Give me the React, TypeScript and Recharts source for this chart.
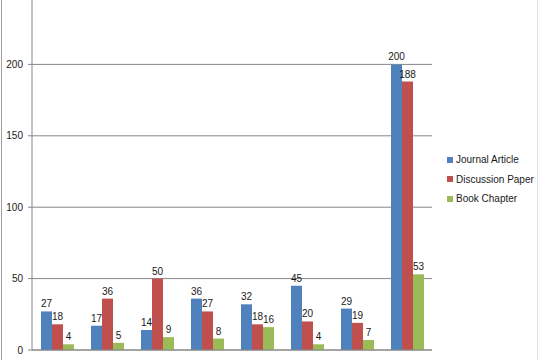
import React from "react";
import {
  BarChart,
  Bar,
  XAxis,
  YAxis,
  CartesianGrid,
  Legend,
  LabelList,
} from "recharts";

const categories = ["1", "2", "3", "4", "5", "6", "7", "8"];
const journalArticle = [27, 17, 14, 36, 32, 45, 29, 200];
const discussionPaper = [18, 36, 50, 27, 18, 20, 19, 188];
const bookChapter = [4, 5, 9, 8, 16, 4, 7, 53];
const yTicks = [0, 50, 100, 150, 200];

const series = [
  { key: "Journal Article", values: journalArticle, color: "#4F81BD" },
  { key: "Discussion Paper", values: discussionPaper, color: "#C0504D" },
  { key: "Book Chapter", values: bookChapter, color: "#9BBB59" },
];

const data = categories.map((c, i) => {
  const row: Record<string, string | number> = { name: c, pos: i + 0.5 };
  series.forEach((s) => (row[s.key] = s.values[i]));
  return row;
});

const edgeTicks = categories.map((_, i) => i).concat(categories.length);

const font = "'Liberation Sans', Arial, sans-serif";
const axisColor = "#868686";

const LegendBox = () => (
  <div style={{ fontFamily: font, fontSize: 10, color: "#1a1a1a" }}>
    {series.map((s) => (
      <div
        key={s.key}
        style={{ display: "flex", alignItems: "center", height: 19.5 }}
      >
        <span
          style={{
            width: 6,
            height: 6,
            background: s.color,
            marginRight: 3,
            display: "inline-block",
          }}
        />
        {s.key}
      </div>
    ))}
  </div>
);

export default function App() {
  return (
    <div
      style={{
        position: "absolute",
        left: 0,
        top: 0,
        width: 540,
        height: 360,
        overflow: "hidden",
        background: "#fff",
      }}
    >
      <div
        style={{
          position: "absolute",
          left: 1,
          top: 0,
          width: 537,
          height: 360,
          borderLeft: "1px solid #a0a0a0",
          borderRight: "1px solid #e0e0e0",
          boxSizing: "border-box",
        }}
      />
      <div style={{ position: "absolute", left: 0, top: -17 }}>
        <BarChart
          width={540}
          height={397}
          data={data}
          margin={{ top: 10, right: 18, left: 0, bottom: 0 }}
          barCategoryGap={9}
          barGap={0}
        >
          <CartesianGrid vertical={false} stroke={axisColor} />
          <XAxis xAxisId="cat" dataKey="name" hide height={0} />
          <XAxis
            xAxisId="edges"
            type="number"
            dataKey="pos"
            domain={[0, categories.length]}
            ticks={edgeTicks}
            tick={false}
            tickSize={6}
            height={30}
            stroke={axisColor}
            allowDataOverflow
          />
          <YAxis
            width={32}
            domain={[0, 250]}
            ticks={yTicks}
            tickSize={4}
            tickMargin={5}
            stroke={axisColor}
            tick={{ fill: "#1a1a1a", fontSize: 10, fontFamily: font }}
          />
          <Legend
            content={<LegendBox />}
            layout="vertical"
            align="right"
            verticalAlign="middle"
            wrapperStyle={{ left: 447, top: 167, width: 90, right: "auto" }}
          />
          {series.map((s) => (
            <Bar
              key={s.key}
              xAxisId="cat"
              dataKey={s.key}
              fill={s.color}
              isAnimationActive={false}
            >
              <LabelList
                dataKey={s.key}
                position="top"
                offset={4}
                fill="#1a1a1a"
                fontSize={10}
                fontFamily={font}
              />
            </Bar>
          ))}
        </BarChart>
      </div>
    </div>
  );
}
